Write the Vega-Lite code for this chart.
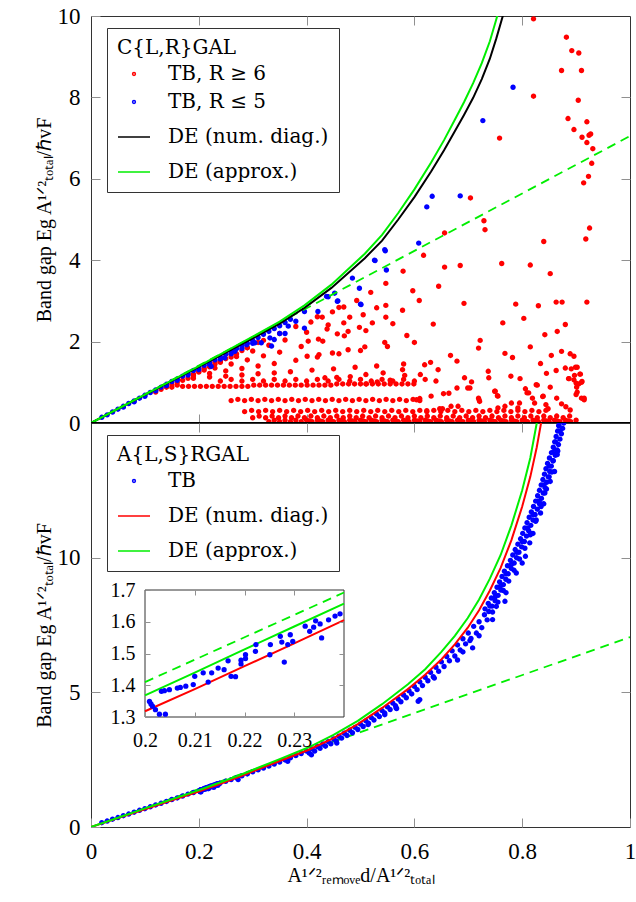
{
"$schema": "https://vega.github.io/schema/vega-lite/v6.json",
"background": "white",
"padding": {"left": 33, "top": 4, "right": 4, "bottom": 5},
"spacing": 0,
"bounds": "flush",
"config": {
  "view": {"stroke": "#333333", "strokeWidth": 1},
  "font": "Liberation Serif",
  "axis": {"labelFont": "Liberation Serif", "labelFontSize": 23, "labelColor": "#000000", "titleFont": "Liberation Serif", "titleFontSize": 20, "titleFontWeight": "normal", "titleColor": "#000000", "domain": false, "grid": false, "tickColor": "#909090", "tickSize": -9, "tickWidth": 1, "labelFlush": false, "labelOverlap": false},
  "axisX": {"labelPadding": 22},
  "axisY": {"labelPadding": 20},
  "legend": {"labelFont": "DejaVu Serif", "labelFontSize": 20, "titleFont": "DejaVu Serif", "titleFontSize": 20, "titleFontWeight": "normal", "labelColor": "#000000", "titleColor": "#000000", "fillColor": "white", "strokeColor": "#333333", "padding": 10, "symbolOffset": 0, "labelOffset": 17, "rowPadding": 8, "titlePadding": 6, "labelLimit": 0, "titleLimit": 0}
},
"datasets": {
"dash": [{"x":0,"y":0},{"x":0.2,"y":1.41},{"x":0.24,"y":1.692},{"x":1,"y":7.05}],
"bkT": [{"x":0,"y":0},{"x":0.05,"y":0.345},{"x":0.1,"y":0.69},{"x":0.15,"y":1.035},{"x":0.2,"y":1.38},{"x":0.25,"y":1.73},{"x":0.3,"y":2.08},{"x":0.35,"y":2.44},{"x":0.396,"y":2.83},{"x":0.446,"y":3.32},{"x":0.508,"y":4.05},{"x":0.54,"y":4.48},{"x":0.57,"y":5.0},{"x":0.6,"y":5.55},{"x":0.631,"y":6.18},{"x":0.655,"y":6.7},{"x":0.675,"y":7.17},{"x":0.692,"y":7.57},{"x":0.709,"y":7.99},{"x":0.725,"y":8.45},{"x":0.74,"y":8.95},{"x":0.752,"y":9.45},{"x":0.764,"y":10.0},{"x":0.78,"y":10.8}],
"gnT": [{"x":0,"y":0},{"x":0.05,"y":0.35},{"x":0.1,"y":0.7},{"x":0.15,"y":1.05},{"x":0.2,"y":1.4},{"x":0.25,"y":1.76},{"x":0.3,"y":2.12},{"x":0.35,"y":2.49},{"x":0.396,"y":2.89},{"x":0.446,"y":3.4},{"x":0.508,"y":4.16},{"x":0.54,"y":4.62},{"x":0.57,"y":5.16},{"x":0.6,"y":5.74},{"x":0.631,"y":6.4},{"x":0.655,"y":6.95},{"x":0.675,"y":7.45},{"x":0.692,"y":7.88},{"x":0.709,"y":8.35},{"x":0.725,"y":8.84},{"x":0.74,"y":9.38},{"x":0.752,"y":9.92},{"x":0.764,"y":10.5},{"x":0.78,"y":11.4}],
"rdB": [{"x":0,"y":0},{"x":0.05,"y":0.33},{"x":0.1,"y":0.66},{"x":0.15,"y":0.99},{"x":0.2,"y":1.318},{"x":0.21,"y":1.388},{"x":0.22,"y":1.46},{"x":0.23,"y":1.532},{"x":0.24,"y":1.605},{"x":0.28,"y":1.9},{"x":0.31,"y":2.14},{"x":0.35,"y":2.45},{"x":0.403,"y":2.86},{"x":0.45,"y":3.3},{"x":0.495,"y":3.82},{"x":0.54,"y":4.42},{"x":0.588,"y":5.12},{"x":0.62,"y":5.65},{"x":0.65,"y":6.22},{"x":0.675,"y":6.78},{"x":0.699,"y":7.4},{"x":0.72,"y":8.05},{"x":0.74,"y":8.78},{"x":0.76,"y":9.62},{"x":0.78,"y":10.65},{"x":0.8,"y":11.9},{"x":0.815,"y":13.0},{"x":0.827,"y":14.1},{"x":0.835,"y":15.0},{"x":0.845,"y":16.2}],
"gnB": [{"x":0,"y":0},{"x":0.05,"y":0.345},{"x":0.1,"y":0.69},{"x":0.15,"y":1.03},{"x":0.2,"y":1.368},{"x":0.21,"y":1.44},{"x":0.22,"y":1.513},{"x":0.23,"y":1.585},{"x":0.24,"y":1.657},{"x":0.28,"y":1.96},{"x":0.31,"y":2.2},{"x":0.35,"y":2.52},{"x":0.403,"y":2.95},{"x":0.45,"y":3.42},{"x":0.495,"y":3.94},{"x":0.54,"y":4.56},{"x":0.588,"y":5.3},{"x":0.62,"y":5.86},{"x":0.65,"y":6.5},{"x":0.675,"y":7.1},{"x":0.699,"y":7.76},{"x":0.72,"y":8.45},{"x":0.74,"y":9.22},{"x":0.76,"y":10.1},{"x":0.78,"y":11.2},{"x":0.8,"y":12.5},{"x":0.815,"y":13.7},{"x":0.827,"y":15.0},{"x":0.84,"y":16.6}],
"redT": [
{"x":0.33,"y":0.03},{"x":0.34,"y":0.07},{"x":0.35,"y":0.03},{"x":0.36,"y":0.07},{"x":0.37,"y":0.03},{"x":0.38,"y":0.07},{"x":0.39,"y":0.03},{"x":0.4,"y":0.07},{"x":0.41,"y":0.03},{"x":0.42,"y":0.07},{"x":0.43,"y":0.03},{"x":0.44,"y":0.07},{"x":0.45,"y":0.03},{"x":0.46,"y":0.07},{"x":0.47,"y":0.03},{"x":0.48,"y":0.07},{"x":0.49,"y":0.03},{"x":0.5,"y":0.07},{"x":0.51,"y":0.03},{"x":0.52,"y":0.07},{"x":0.53,"y":0.03},{"x":0.54,"y":0.07},{"x":0.55,"y":0.03},{"x":0.56,"y":0.07},{"x":0.57,"y":0.03},{"x":0.58,"y":0.07},{"x":0.59,"y":0.03},{"x":0.6,"y":0.07},{"x":0.61,"y":0.03},{"x":0.62,"y":0.07},{"x":0.63,"y":0.03},{"x":0.64,"y":0.07},{"x":0.65,"y":0.03},{"x":0.66,"y":0.07},{"x":0.67,"y":0.03},{"x":0.68,"y":0.07},{"x":0.69,"y":0.03},{"x":0.7,"y":0.07},{"x":0.71,"y":0.03},{"x":0.72,"y":0.07},{"x":0.73,"y":0.03},{"x":0.74,"y":0.07},{"x":0.75,"y":0.03},{"x":0.76,"y":0.07},{"x":0.77,"y":0.03},{"x":0.78,"y":0.07},{"x":0.79,"y":0.03},{"x":0.8,"y":0.07},{"x":0.81,"y":0.03},{"x":0.82,"y":0.07},{"x":0.83,"y":0.03},{"x":0.84,"y":0.07},{"x":0.85,"y":0.03},{"x":0.86,"y":0.07},{"x":0.87,"y":0.03},{"x":0.88,"y":0.07},{"x":0.89,"y":0.03},{"x":0.9,"y":0.07},
{"x":0.405,"y":0.05},{"x":0.425,"y":0.05},{"x":0.445,"y":0.05},{"x":0.465,"y":0.05},{"x":0.485,"y":0.05},{"x":0.505,"y":0.05},{"x":0.525,"y":0.05},{"x":0.545,"y":0.05},{"x":0.565,"y":0.05},{"x":0.585,"y":0.05},{"x":0.605,"y":0.05},{"x":0.625,"y":0.05},{"x":0.645,"y":0.05},{"x":0.665,"y":0.05},{"x":0.685,"y":0.05},{"x":0.705,"y":0.05},{"x":0.725,"y":0.05},{"x":0.745,"y":0.05},{"x":0.765,"y":0.05},{"x":0.785,"y":0.05},{"x":0.805,"y":0.05},{"x":0.825,"y":0.05},{"x":0.845,"y":0.05},{"x":0.865,"y":0.05},{"x":0.885,"y":0.05},
{"x":0.3,"y":0.13},{"x":0.312,"y":0.17},{"x":0.324,"y":0.13},{"x":0.336,"y":0.17},{"x":0.348,"y":0.13},{"x":0.36,"y":0.17},{"x":0.372,"y":0.13},{"x":0.384,"y":0.17},{"x":0.396,"y":0.13},{"x":0.408,"y":0.17},{"x":0.42,"y":0.13},{"x":0.432,"y":0.17},{"x":0.444,"y":0.13},{"x":0.456,"y":0.17},{"x":0.468,"y":0.13},{"x":0.48,"y":0.17},{"x":0.492,"y":0.13},{"x":0.504,"y":0.17},{"x":0.516,"y":0.13},{"x":0.528,"y":0.17},{"x":0.54,"y":0.13},{"x":0.552,"y":0.17},{"x":0.564,"y":0.13},{"x":0.576,"y":0.17},{"x":0.588,"y":0.13},{"x":0.6,"y":0.17},{"x":0.612,"y":0.13},{"x":0.624,"y":0.17},{"x":0.636,"y":0.13},{"x":0.648,"y":0.17},{"x":0.66,"y":0.13},{"x":0.672,"y":0.17},{"x":0.684,"y":0.13},{"x":0.696,"y":0.17},{"x":0.708,"y":0.13},{"x":0.72,"y":0.17},{"x":0.732,"y":0.13},{"x":0.744,"y":0.17},{"x":0.756,"y":0.13},{"x":0.768,"y":0.17},{"x":0.78,"y":0.13},{"x":0.792,"y":0.17},{"x":0.804,"y":0.13},{"x":0.816,"y":0.17},{"x":0.828,"y":0.13},{"x":0.84,"y":0.17},{"x":0.852,"y":0.13},{"x":0.864,"y":0.17},{"x":0.876,"y":0.13},{"x":0.888,"y":0.17},
{"x":0.285,"y":0.28},{"x":0.298,"y":0.31},{"x":0.311,"y":0.28},{"x":0.324,"y":0.31},{"x":0.337,"y":0.28},{"x":0.35,"y":0.31},{"x":0.363,"y":0.28},{"x":0.376,"y":0.31},{"x":0.389,"y":0.28},{"x":0.402,"y":0.31},{"x":0.415,"y":0.28},{"x":0.428,"y":0.31},{"x":0.441,"y":0.28},{"x":0.454,"y":0.31},{"x":0.467,"y":0.28},{"x":0.48,"y":0.31},{"x":0.493,"y":0.28},{"x":0.506,"y":0.31},{"x":0.519,"y":0.28},{"x":0.532,"y":0.31},{"x":0.545,"y":0.28},{"x":0.558,"y":0.31},{"x":0.571,"y":0.28},{"x":0.584,"y":0.31},{"x":0.597,"y":0.28},{"x":0.61,"y":0.31},{"x":0.623,"y":0.28},{"x":0.636,"y":0.31},{"x":0.649,"y":0.28},{"x":0.662,"y":0.31},{"x":0.675,"y":0.28},{"x":0.688,"y":0.31},{"x":0.701,"y":0.28},{"x":0.714,"y":0.31},{"x":0.727,"y":0.28},{"x":0.74,"y":0.31},{"x":0.753,"y":0.28},{"x":0.766,"y":0.31},{"x":0.779,"y":0.28},{"x":0.792,"y":0.31},{"x":0.805,"y":0.28},{"x":0.818,"y":0.31},{"x":0.831,"y":0.28},{"x":0.844,"y":0.31},
{"x":0.26,"y":0.55},{"x":0.2725,"y":0.58},{"x":0.285,"y":0.55},{"x":0.2975,"y":0.58},{"x":0.31,"y":0.55},{"x":0.3225,"y":0.58},{"x":0.335,"y":0.55},{"x":0.3475,"y":0.58},{"x":0.36,"y":0.55},{"x":0.3725,"y":0.58},{"x":0.385,"y":0.55},{"x":0.3975,"y":0.58},{"x":0.41,"y":0.55},{"x":0.4225,"y":0.58},{"x":0.435,"y":0.55},{"x":0.4475,"y":0.58},{"x":0.46,"y":0.55},{"x":0.4725,"y":0.58},{"x":0.485,"y":0.55},{"x":0.4975,"y":0.58},{"x":0.51,"y":0.55},{"x":0.5225,"y":0.58},{"x":0.535,"y":0.55},{"x":0.5475,"y":0.58},{"x":0.56,"y":0.55},{"x":0.5725,"y":0.58},{"x":0.585,"y":0.55},{"x":0.5975,"y":0.58},{"x":0.61,"y":0.55},
{"x":0.17,"y":0.9},{"x":0.181,"y":0.9},{"x":0.192,"y":0.9},{"x":0.203,"y":0.9},{"x":0.214,"y":0.9},{"x":0.225,"y":0.9},{"x":0.236,"y":0.9},{"x":0.247,"y":0.9},{"x":0.258,"y":0.9},{"x":0.269,"y":0.9},{"x":0.28,"y":0.9},{"x":0.291,"y":0.9},{"x":0.302,"y":0.93},{"x":0.313,"y":0.93},{"x":0.324,"y":0.93},{"x":0.335,"y":0.93},{"x":0.346,"y":0.93},{"x":0.357,"y":0.93},{"x":0.368,"y":0.93},{"x":0.379,"y":0.93},{"x":0.39,"y":0.93},{"x":0.401,"y":0.93},{"x":0.412,"y":0.93},{"x":0.423,"y":0.93},{"x":0.434,"y":0.93},{"x":0.445,"y":0.93},{"x":0.456,"y":0.96},{"x":0.467,"y":0.96},{"x":0.478,"y":0.96},{"x":0.489,"y":0.96},{"x":0.5,"y":0.96},{"x":0.511,"y":0.96},{"x":0.522,"y":0.96},{"x":0.533,"y":0.96},{"x":0.544,"y":0.96},{"x":0.555,"y":0.96},{"x":0.566,"y":0.96},{"x":0.577,"y":0.96},{"x":0.588,"y":0.96},{"x":0.599,"y":0.96},
{"x":0.24,"y":1.03},{"x":0.26,"y":1.07},{"x":0.28,"y":1.03},{"x":0.3,"y":1.07},{"x":0.32,"y":1.03},{"x":0.34,"y":1.07},{"x":0.36,"y":1.03},{"x":0.38,"y":1.07},{"x":0.4,"y":1.03},{"x":0.42,"y":1.07},{"x":0.44,"y":1.03},{"x":0.46,"y":1.07},{"x":0.48,"y":1.03},{"x":0.5,"y":1.07},{"x":0.52,"y":1.03},{"x":0.54,"y":1.07},{"x":0.56,"y":1.03},{"x":0.58,"y":1.07},{"x":0.6,"y":1.03},{"x":0.62,"y":1.07},{"x":0.64,"y":1.03},
{"x":0.19,"y":1.1},{"x":0.22,"y":1.13},{"x":0.25,"y":1.15},{"x":0.28,"y":1.18},{"x":0.31,"y":1.21},{"x":0.34,"y":1.23},{"x":0.37,"y":1.26},{"x":0.41,"y":1.3},{"x":0.45,"y":1.33},{"x":0.49,"y":1.37},{"x":0.53,"y":1.4},{"x":0.58,"y":1.45},{"x":0.63,"y":1.49},
{"x":0.19,"y":1.16},{"x":0.22,"y":1.22},{"x":0.25,"y":1.28},{"x":0.28,"y":1.34},{"x":0.31,"y":1.4},{"x":0.34,"y":1.46},{"x":0.38,"y":1.54},{"x":0.42,"y":1.62},{"x":0.46,"y":1.7},{"x":0.5,"y":1.78},{"x":0.55,"y":1.88},{"x":0.6,"y":1.98},
{"x":0.2,"y":1.25},{"x":0.23,"y":1.35},{"x":0.26,"y":1.45},{"x":0.29,"y":1.55},{"x":0.32,"y":1.65},{"x":0.35,"y":1.74},{"x":0.39,"y":1.88},{"x":0.43,"y":2.01},{"x":0.47,"y":2.14},{"x":0.51,"y":2.27},{"x":0.56,"y":2.44},
{"x":0.21,"y":1.35},{"x":0.24,"y":1.49},{"x":0.27,"y":1.63},{"x":0.3,"y":1.77},{"x":0.33,"y":1.91},{"x":0.36,"y":2.04},{"x":0.4,"y":2.23},{"x":0.44,"y":2.41},{"x":0.48,"y":2.6},{"x":0.53,"y":2.83},
{"x":0.23,"y":1.5},{"x":0.26,"y":1.68},{"x":0.29,"y":1.85},{"x":0.32,"y":2.03},{"x":0.35,"y":2.2},{"x":0.38,"y":2.37},{"x":0.42,"y":2.61},{"x":0.46,"y":2.84},
{"x":0.12,"y":0.76},{"x":0.13,"y":0.83},{"x":0.14,"y":0.88},{"x":0.15,"y":0.95},{"x":0.16,"y":1.0},{"x":0.15,"y":0.88},{"x":0.17,"y":1.05},{"x":0.18,"y":1.1},{"x":0.16,"y":0.93},{"x":0.19,"y":1.2},{"x":0.2,"y":1.27},{"x":0.21,"y":1.3},{"x":0.22,"y":1.38},{"x":0.23,"y":1.45},{"x":0.24,"y":1.52},{"x":0.25,"y":1.58},{"x":0.26,"y":1.62},{"x":0.27,"y":1.7},{"x":0.28,"y":1.78},{"x":0.29,"y":1.85},{"x":0.31,"y":1.98},
{"x":0.821,"y":9.93},{"x":0.882,"y":9.48},{"x":0.892,"y":9.15},{"x":0.905,"y":9.09},{"x":0.873,"y":8.66},{"x":0.91,"y":8.66},{"x":0.821,"y":8.03},{"x":0.904,"y":7.93},{"x":0.885,"y":7.48},{"x":0.92,"y":7.4},{"x":0.896,"y":7.21},{"x":0.911,"y":7.02},{"x":0.927,"y":7.1},{"x":0.924,"y":7.07},{"x":0.92,"y":6.89},{"x":0.931,"y":6.74},{"x":0.929,"y":6.38},{"x":0.758,"y":7.0},{"x":0.923,"y":6.06},{"x":0.914,"y":5.9},{"x":0.704,"y":5.53},{"x":0.729,"y":4.97},{"x":0.731,"y":4.75},{"x":0.925,"y":4.79},{"x":0.918,"y":4.52},{"x":0.656,"y":4.67},{"x":0.84,"y":4.46},{"x":0.617,"y":4.12},{"x":0.656,"y":3.83},{"x":0.685,"y":3.87},{"x":0.762,"y":3.92},{"x":0.815,"y":3.88},{"x":0.852,"y":3.67},{"x":0.579,"y":3.73},{"x":0.547,"y":3.43},{"x":0.645,"y":3.36},{"x":0.597,"y":3.25},{"x":0.609,"y":3.01},{"x":0.692,"y":2.94},{"x":0.788,"y":2.92},{"x":0.83,"y":2.88},{"x":0.863,"y":2.97},{"x":0.874,"y":2.97},{"x":0.92,"y":2.97},{"x":0.578,"y":2.77},{"x":0.547,"y":2.89},{"x":0.547,"y":2.6},{"x":0.635,"y":2.43},{"x":0.764,"y":2.46},{"x":0.803,"y":2.57},{"x":0.88,"y":2.42},{"x":0.865,"y":2.25},{"x":0.842,"y":2.17},{"x":0.586,"y":2.15},{"x":0.722,"y":2.03},{"x":0.719,"y":1.84},{"x":0.815,"y":1.87},{"x":0.545,"y":1.98},{"x":0.508,"y":1.87},{"x":0.768,"y":1.71},{"x":0.782,"y":1.61},{"x":0.667,"y":1.66},{"x":0.679,"y":1.52},{"x":0.834,"y":1.46},{"x":0.854,"y":1.66},{"x":0.873,"y":1.76},{"x":0.889,"y":1.7},{"x":0.896,"y":1.64},{"x":0.88,"y":1.35},{"x":0.899,"y":1.37},{"x":0.908,"y":1.2},{"x":0.886,"y":1.09},{"x":0.9,"y":0.98},{"x":0.911,"y":1.02},{"x":0.902,"y":0.76},{"x":0.915,"y":0.61},{"x":0.845,"y":1.22},{"x":0.863,"y":1.29},{"x":0.806,"y":0.84},{"x":0.812,"y":0.74},{"x":0.839,"y":0.66},{"x":0.826,"y":0.94},{"x":0.737,"y":1.27},{"x":0.738,"y":1.11},{"x":0.779,"y":1.15},{"x":0.796,"y":1.09},{"x":0.749,"y":0.78},{"x":0.755,"y":0.66},{"x":0.72,"y":0.57},{"x":0.654,"y":0.72},{"x":0.631,"y":0.66},{"x":0.679,"y":0.86},{"x":0.693,"y":1.11},{"x":0.703,"y":0.86},{"x":0.644,"y":1.31},{"x":0.619,"y":1.43},{"x":0.611,"y":1.19},{"x":0.582,"y":1.17},{"x":0.578,"y":1.31},{"x":0.555,"y":1.05},{"x":0.542,"y":1.23},{"x":0.531,"y":1.01},{"x":0.51,"y":1.19},{"x":0.51,"y":0.96},{"x":0.481,"y":1.14},{"x":0.456,"y":1.12},{"x":0.434,"y":1.11},
{"x":0.519,"y":3.21},{"x":0.493,"y":3.01},{"x":0.505,"y":2.66},{"x":0.522,"y":2.46},{"x":0.469,"y":2.85},{"x":0.448,"y":2.73},{"x":0.429,"y":2.6},{"x":0.408,"y":2.48},{"x":0.477,"y":2.25},{"x":0.498,"y":2.35},{"x":0.438,"y":2.31},{"x":0.457,"y":2.19},{"x":0.422,"y":2.06},{"x":0.469,"y":2.46},{"x":0.403,"y":2.01},{"x":0.401,"y":1.64},{"x":0.423,"y":1.68},{"x":0.448,"y":1.72},{"x":0.477,"y":1.8},
{"x":0.891,"y":1.33},{"x":0.902,"y":1.37},{"x":0.897,"y":1.17},{"x":0.907,"y":1.2},{"x":0.887,"y":1.09},{"x":0.896,"y":1.06},{"x":0.901,"y":0.88},{"x":0.828,"y":0.93},{"x":0.852,"y":0.88},{"x":0.706,"y":1.01},{"x":0.699,"y":0.86},{"x":0.75,"y":0.78},{"x":0.754,"y":0.67},{"x":0.664,"y":0.73},{"x":0.604,"y":0.57},{"x":0.61,"y":0.6},{"x":0.719,"y":0.61},{"x":0.721,"y":0.53},{"x":0.809,"y":0.74},{"x":0.819,"y":0.61},{"x":0.823,"y":0.49},{"x":0.838,"y":0.65},{"x":0.78,"y":0.49},{"x":0.768,"y":0.41},{"x":0.755,"y":0.37},{"x":0.792,"y":0.37},{"x":0.795,"y":0.49},{"x":0.668,"y":0.41},{"x":0.681,"y":0.41},{"x":0.647,"y":0.35},{"x":0.652,"y":0.35},{"x":0.623,"y":0.3},{"x":0.844,"y":0.45},{"x":0.848,"y":0.35},{"x":0.864,"y":0.61},{"x":0.873,"y":0.47},{"x":0.881,"y":0.4},{"x":0.889,"y":0.32},{"x":0.9,"y":0.7},{"x":0.91,"y":0.61},{"x":0.915,"y":0.57},{"x":0.905,"y":0.96},{"x":0.91,"y":1.0}
],
"blueT": [
{"x":0.02,"y":0.14},{"x":0.03,"y":0.2},{"x":0.04,"y":0.27},{"x":0.05,"y":0.34},{"x":0.06,"y":0.41},{"x":0.07,"y":0.48},{"x":0.08,"y":0.54},{"x":0.09,"y":0.61},{"x":0.1,"y":0.68},{"x":0.11,"y":0.75},{"x":0.12,"y":0.81},{"x":0.13,"y":0.88},{"x":0.14,"y":0.95},{"x":0.15,"y":1.02},{"x":0.16,"y":1.08},{"x":0.17,"y":1.15},{"x":0.18,"y":1.22},{"x":0.19,"y":1.29},{"x":0.2,"y":1.35},{"x":0.21,"y":1.42},{"x":0.22,"y":1.48},{"x":0.23,"y":1.55},{"x":0.24,"y":1.62},{"x":0.25,"y":1.69},{"x":0.26,"y":1.75},{"x":0.27,"y":1.83},{"x":0.28,"y":1.9},{"x":0.29,"y":1.96},{"x":0.3,"y":2.03},{"x":0.31,"y":2.1},{"x":0.32,"y":2.18},{"x":0.33,"y":2.25},{"x":0.34,"y":2.32},{"x":0.35,"y":2.39},{"x":0.36,"y":2.47},{"x":0.37,"y":2.55},
{"x":0.06,"y":0.39},{"x":0.08,"y":0.52},{"x":0.1,"y":0.655},{"x":0.12,"y":0.79},{"x":0.14,"y":0.92},{"x":0.16,"y":1.05},{"x":0.18,"y":1.18},{"x":0.2,"y":1.31},{"x":0.22,"y":1.44},{"x":0.24,"y":1.57},{"x":0.26,"y":1.7},{"x":0.28,"y":1.83},{"x":0.3,"y":1.96},
{"x":0.727,"y":7.43},{"x":0.783,"y":8.25},{"x":0.685,"y":5.58},{"x":0.633,"y":5.57},{"x":0.623,"y":5.31},{"x":0.608,"y":4.42},{"x":0.546,"y":4.23},{"x":0.527,"y":3.99},{"x":0.548,"y":3.76},{"x":0.485,"y":3.56},{"x":0.498,"y":3.31},{"x":0.452,"y":3.19},{"x":0.437,"y":3.11},{"x":0.457,"y":2.99},{"x":0.5,"y":2.92},{"x":0.421,"y":2.74},{"x":0.396,"y":2.74},{"x":0.332,"y":2.09},{"x":0.316,"y":1.97},{"x":0.304,"y":1.97},{"x":0.335,"y":1.89},{"x":0.289,"y":1.92},{"x":0.267,"y":1.76},{"x":0.248,"y":1.6},{"x":0.223,"y":1.39},{"x":0.366,"y":2.38},{"x":0.396,"y":2.33},{"x":0.44,"y":3.1},{"x":0.458,"y":3.0},{"x":0.501,"y":2.91},{"x":0.526,"y":4.0},{"x":0.545,"y":4.26},{"x":0.38,"y":2.5},{"x":0.35,"y":2.2},{"x":0.36,"y":2.2},{"x":0.34,"y":2.05}
],
"bb": [
{"x":0.02,"y":0.16},{"x":0.03,"y":0.22},{"x":0.04,"y":0.29},{"x":0.05,"y":0.35},{"x":0.06,"y":0.42},{"x":0.07,"y":0.48},{"x":0.08,"y":0.55},{"x":0.09,"y":0.62},{"x":0.1,"y":0.68},{"x":0.11,"y":0.75},{"x":0.12,"y":0.82},{"x":0.13,"y":0.88},{"x":0.14,"y":0.95},{"x":0.15,"y":1.02},{"x":0.16,"y":1.08},{"x":0.17,"y":1.15},{"x":0.18,"y":1.22},{"x":0.19,"y":1.28},
{"x":0.2009,"y":1.349},{"x":0.2012,"y":1.341},{"x":0.2015,"y":1.334},{"x":0.2021,"y":1.323},{"x":0.2029,"y":1.309},{"x":0.2041,"y":1.309},{"x":0.2033,"y":1.381},{"x":0.2039,"y":1.383},{"x":0.2049,"y":1.386},{"x":0.2065,"y":1.391},{"x":0.2071,"y":1.393},{"x":0.2082,"y":1.397},{"x":0.2097,"y":1.402},{"x":0.21,"y":1.428},{"x":0.2117,"y":1.439},{"x":0.2127,"y":1.41},{"x":0.2134,"y":1.439},{"x":0.2147,"y":1.454},{"x":0.2159,"y":1.449},{"x":0.2167,"y":1.477},{"x":0.2173,"y":1.428},{"x":0.2182,"y":1.427},{"x":0.2193,"y":1.479},{"x":0.2193,"y":1.467},{"x":0.2202,"y":1.484},{"x":0.2202,"y":1.496},{"x":0.2222,"y":1.507},{"x":0.2223,"y":1.528},{"x":0.2251,"y":1.496},{"x":0.2252,"y":1.528},{"x":0.2272,"y":1.554},{"x":0.2275,"y":1.536},{"x":0.228,"y":1.473},{"x":0.2287,"y":1.528},{"x":0.2292,"y":1.559},{"x":0.2297,"y":1.538},{"x":0.2322,"y":1.586},{"x":0.2331,"y":1.57},{"x":0.2339,"y":1.583},{"x":0.2343,"y":1.603},{"x":0.2352,"y":1.593},{"x":0.2355,"y":1.549},{"x":0.2369,"y":1.606},{"x":0.2382,"y":1.618},{"x":0.2392,"y":1.625},
{"x":0.25,"y":1.7},{"x":0.26,"y":1.76},{"x":0.27,"y":1.83},{"x":0.28,"y":1.9},{"x":0.29,"y":1.97},{"x":0.3,"y":2.05},{"x":0.31,"y":2.12},{"x":0.32,"y":2.19},{"x":0.33,"y":2.26},{"x":0.34,"y":2.34},{"x":0.35,"y":2.41},{"x":0.36,"y":2.49},{"x":0.37,"y":2.57},{"x":0.38,"y":2.65},{"x":0.39,"y":2.73},{"x":0.4,"y":2.82},{"x":0.41,"y":2.9},{"x":0.42,"y":2.99},{"x":0.43,"y":3.08},{"x":0.44,"y":3.17},{"x":0.45,"y":3.27},{"x":0.46,"y":3.37},{"x":0.47,"y":3.48},{"x":0.48,"y":3.59},{"x":0.49,"y":3.7},{"x":0.5,"y":3.82},{"x":0.51,"y":3.94},{"x":0.52,"y":4.06},{"x":0.53,"y":4.19},{"x":0.54,"y":4.32},{"x":0.55,"y":4.46},{"x":0.56,"y":4.6},{"x":0.57,"y":4.75},{"x":0.58,"y":4.9},{"x":0.59,"y":5.06},{"x":0.6,"y":5.22},{"x":0.61,"y":5.39},{"x":0.62,"y":5.56},{"x":0.63,"y":5.74},{"x":0.64,"y":5.93},{"x":0.65,"y":6.13},{"x":0.66,"y":6.33},{"x":0.67,"y":6.54},{"x":0.68,"y":6.76},{"x":0.69,"y":6.99},{"x":0.7,"y":7.2},{"x":0.71,"y":7.45},{"x":0.72,"y":7.62},{"x":0.73,"y":7.88},{"x":0.74,"y":8.2},{"x":0.75,"y":8.55},{"x":0.76,"y":8.95},{"x":0.77,"y":9.4},{"x":0.78,"y":9.75},{"x":0.79,"y":10.2},{"x":0.8,"y":10.6},{"x":0.81,"y":11.1},{"x":0.82,"y":11.6},{"x":0.83,"y":12.1},{"x":0.84,"y":12.7},{"x":0.85,"y":13.4},{"x":0.86,"y":13.95},{"x":0.87,"y":14.7},{"x":0.875,"y":15.2},
{"x":0.405,"y":2.74},{"x":0.415,"y":2.82},{"x":0.425,"y":2.92},{"x":0.435,"y":3.0},{"x":0.445,"y":3.09},{"x":0.455,"y":3.19},{"x":0.465,"y":3.3},{"x":0.475,"y":3.4},{"x":0.485,"y":3.5},{"x":0.495,"y":3.62},{"x":0.505,"y":3.73},{"x":0.515,"y":3.85},{"x":0.525,"y":3.97},{"x":0.535,"y":4.1},{"x":0.545,"y":4.23},{"x":0.555,"y":4.36},{"x":0.565,"y":4.5},{"x":0.575,"y":4.65},{"x":0.585,"y":4.8},{"x":0.595,"y":4.94},{"x":0.605,"y":5.1},{"x":0.615,"y":5.25},{"x":0.625,"y":5.43},{"x":0.635,"y":5.58},{"x":0.645,"y":5.78},{"x":0.655,"y":5.96},{"x":0.665,"y":6.17},{"x":0.675,"y":6.35},{"x":0.685,"y":6.57},{"x":0.695,"y":6.8},{"x":0.705,"y":7.0},{"x":0.715,"y":7.2},{"x":0.725,"y":7.4},{"x":0.735,"y":7.69},{"x":0.745,"y":7.98},{"x":0.755,"y":8.35},{"x":0.765,"y":8.78},{"x":0.775,"y":9.13},{"x":0.785,"y":9.53},{"x":0.795,"y":9.95},{"x":0.805,"y":10.35},{"x":0.815,"y":10.85},{"x":0.825,"y":11.35},{"x":0.835,"y":11.9},{"x":0.845,"y":12.55},{"x":0.855,"y":13.18},{"x":0.865,"y":13.83},
{"x":0.738,"y":8.0},{"x":0.744,"y":8.2},{"x":0.7497,"y":8.4},{"x":0.7553,"y":8.6},{"x":0.7603,"y":8.8},{"x":0.7651,"y":9.0},{"x":0.7696,"y":9.2},{"x":0.774,"y":9.4},{"x":0.7797,"y":9.6},{"x":0.7851,"y":9.8},{"x":0.7896,"y":10.0},{"x":0.794,"y":10.2},{"x":0.799,"y":10.4},{"x":0.804,"y":10.6},{"x":0.808,"y":10.8},{"x":0.812,"y":11.0},{"x":0.816,"y":11.2},{"x":0.82,"y":11.4},{"x":0.824,"y":11.6},{"x":0.828,"y":11.8},{"x":0.832,"y":12.0},{"x":0.8357,"y":12.2},{"x":0.839,"y":12.4},{"x":0.8423,"y":12.6},{"x":0.8454,"y":12.8},{"x":0.8483,"y":13.0},{"x":0.8511,"y":13.2},{"x":0.854,"y":13.4},{"x":0.8576,"y":13.6},{"x":0.8613,"y":13.8},{"x":0.8647,"y":14.0},{"x":0.8673,"y":14.2},{"x":0.87,"y":14.4},{"x":0.8727,"y":14.6},{"x":0.875,"y":14.8},{"x":0.877,"y":15.0},
{"x":0.731,"y":8.1},{"x":0.737,"y":8.3},{"x":0.7427,"y":8.5},{"x":0.7483,"y":8.7},{"x":0.7533,"y":8.9},{"x":0.7581,"y":9.1},{"x":0.7626,"y":9.3},{"x":0.767,"y":9.5},{"x":0.7727,"y":9.7},{"x":0.7781,"y":9.9},{"x":0.7826,"y":10.1},{"x":0.787,"y":10.3},{"x":0.792,"y":10.5},{"x":0.797,"y":10.7},{"x":0.801,"y":10.9},{"x":0.805,"y":11.1},{"x":0.809,"y":11.3},{"x":0.813,"y":11.5},{"x":0.817,"y":11.7},{"x":0.821,"y":11.9},{"x":0.825,"y":12.1},{"x":0.8287,"y":12.3},{"x":0.832,"y":12.5},{"x":0.8353,"y":12.7},{"x":0.8384,"y":12.9},{"x":0.8413,"y":13.1},{"x":0.8441,"y":13.3},{"x":0.847,"y":13.5},{"x":0.8506,"y":13.7},{"x":0.8543,"y":13.9},{"x":0.8577,"y":14.1},{"x":0.8603,"y":14.3},{"x":0.863,"y":14.5},{"x":0.8657,"y":14.7},{"x":0.868,"y":14.9},
{"x":0.862,"y":14.3},{"x":0.868,"y":14.9},{"x":0.857,"y":13.6},{"x":0.85,"y":13.0},{"x":0.842,"y":12.4},{"x":0.835,"y":12.0},{"x":0.826,"y":11.4},{"x":0.816,"y":10.9},
{"x":0.852,"y":12.83},{"x":0.834,"y":11.66},{"x":0.814,"y":10.55},{"x":0.806,"y":10.05},{"x":0.789,"y":9.43},{"x":0.768,"y":8.38},{"x":0.752,"y":8.19},{"x":0.708,"y":6.65},{"x":0.703,"y":6.92},{"x":0.866,"y":13.96},{"x":0.61,"y":4.73},{"x":0.567,"y":4.4},{"x":0.456,"y":3.12},{"x":0.409,"y":2.68},{"x":0.637,"y":5.53},{"x":0.545,"y":4.17},{"x":0.514,"y":3.8},{"x":0.607,"y":4.67},{"x":0.566,"y":4.42},{"x":0.273,"y":1.76},{"x":0.365,"y":2.44},{"x":0.68,"y":6.2},{"x":0.69,"y":6.5},{"x":0.72,"y":7.1},{"x":0.745,"y":7.7},{"x":0.77,"y":8.7},{"x":0.8,"y":9.8},{"x":0.82,"y":10.9},{"x":0.84,"y":12.0},{"x":0.86,"y":13.2}
]
},
"vconcat": [
{
 "name": "top",
 "width": 539, "height": 407,
 "layer": [
  {
   "layer": [
    {"data": {"name": "redT"}, "mark": {"type": "point", "filled": false, "strokeWidth": 2.6, "opacity": 1, "clip": true},
     "encoding": {
      "x": {"field": "x", "type": "quantitative", "scale": {"domain": [0, 1], "nice": false, "zero": false}, "axis": {"orient": "bottom", "values": [0.2, 0.4, 0.6, 0.8], "labels": false, "title": null}},
      "y": {"field": "y", "type": "quantitative", "scale": {"domain": [0, 10], "nice": false}, "axis": {"orient": "left", "values": [0, 2, 4, 6, 8, 10], "format": "~f", "title": "Band gap Eg A¹ᐟ²ₜₒₜₐₗ/ℏvF", "titlePadding": 3}},
      "color": {"datum": "TB, R ≥ 6", "type": "nominal",
        "scale": {"domain": ["TB, R ≥ 6", "TB, R ≤ 5", "DE (num. diag.)", "DE (approx.)"], "range": ["#ff0000", "#0000ff", "#000000", "#00ee00"]},
        "legend": {"title": "C{L,R}GAL", "orient": "none", "legendX": 16, "legendY": 12}},
      "shape": {"datum": "TB, R ≥ 6", "type": "nominal",
        "scale": {"domain": ["TB, R ≥ 6", "TB, R ≤ 5", "DE (num. diag.)", "DE (approx.)"], "range": ["circle", "circle", "stroke", "stroke"]}},
      "size": {"datum": "TB, R ≥ 6", "type": "ordinal",
        "scale": {"type": "ordinal", "domain": ["TB, R ≥ 6", "TB, R ≤ 5", "DE (num. diag.)", "DE (approx.)"], "range": [8, 8, 1024, 1024]}}
     }},
    {"data": {"name": "blueT"}, "mark": {"type": "point", "filled": false, "strokeWidth": 2.6, "size": 8, "opacity": 1, "clip": true},
     "encoding": {
      "x": {"field": "x", "type": "quantitative", "scale": {"domain": [0, 1], "nice": false, "zero": false}},
      "y": {"field": "y", "type": "quantitative", "scale": {"domain": [0, 10], "nice": false}},
      "color": {"datum": "TB, R ≤ 5", "type": "nominal"}
     }},
    {"data": {"name": "dash"}, "mark": {"type": "line", "color": "#00ee00", "strokeWidth": 1.8, "strokeDash": [9, 6], "clip": true},
     "encoding": {
      "x": {"field": "x", "type": "quantitative", "scale": {"domain": [0, 1], "nice": false, "zero": false}},
      "y": {"field": "y", "type": "quantitative", "scale": {"domain": [0, 10], "nice": false}}
     }},
    {"data": {"name": "bkT"}, "mark": {"type": "line", "strokeWidth": 2, "clip": true},
     "encoding": {
      "x": {"field": "x", "type": "quantitative", "scale": {"domain": [0, 1], "nice": false, "zero": false}},
      "y": {"field": "y", "type": "quantitative", "scale": {"domain": [0, 10], "nice": false}},
      "color": {"datum": "DE (num. diag.)", "type": "nominal"}
     }},
    {"data": {"name": "gnT"}, "mark": {"type": "line", "strokeWidth": 2, "clip": true},
     "encoding": {
      "x": {"field": "x", "type": "quantitative", "scale": {"domain": [0, 1], "nice": false, "zero": false}},
      "y": {"field": "y", "type": "quantitative", "scale": {"domain": [0, 10], "nice": false}},
      "color": {"datum": "DE (approx.)", "type": "nominal"}
     }},
    {"data": {"values": [{}]}, "mark": {"type": "rule", "color": "#000000", "strokeWidth": 2},
     "encoding": {"y": {"datum": 0, "type": "quantitative", "scale": {"domain": [0, 10], "nice": false}}}}
   ]
  },
  {"data": {"name": "dash"}, "mark": {"type": "line", "opacity": 0},
   "encoding": {
    "x": {"field": "x", "type": "quantitative", "scale": {"domain": [0, 1], "nice": false, "zero": false}, "axis": {"orient": "top", "values": [0.2, 0.4, 0.6, 0.8], "labels": false, "title": null}},
    "y": {"field": "y", "type": "quantitative", "scale": {"domain": [0, 10], "nice": false}, "axis": {"orient": "right", "values": [2, 4, 6, 8], "labels": false, "title": null}}
   }}
 ],
 "resolve": {"axis": {"x": "independent", "y": "independent"}}
},
{
 "name": "bot",
 "width": 539, "height": 404,
 "layer": [
  {
   "layer": [
    {"data": {"name": "dash"}, "mark": {"type": "line", "color": "#00ee00", "strokeWidth": 1.8, "strokeDash": [9, 6], "clip": true},
     "encoding": {
      "x": {"field": "x", "type": "quantitative", "scale": {"domain": [0, 1], "nice": false, "zero": false}, "axis": {"orient": "bottom", "values": [0, 0.2, 0.4, 0.6, 0.8, 1], "format": "~f", "title": "A¹ᐟ²ᵣₑₘₒᵥₑd/A¹ᐟ²ₜₒₜₐₗ", "titlePadding": 2}},
      "y": {"field": "y", "type": "quantitative", "scale": {"domain": [0, 15], "nice": false}, "axis": {"orient": "left", "values": [0, 5, 10], "format": "~f", "title": "Band gap Eg A¹ᐟ²ₜₒₜₐₗ/ℏvF", "titlePadding": 3}}
     }},
    {"data": {"name": "bb"}, "mark": {"type": "point", "filled": false, "strokeWidth": 2.6, "opacity": 1, "clip": true},
     "encoding": {
      "x": {"field": "x", "type": "quantitative", "scale": {"domain": [0, 1], "nice": false, "zero": false}},
      "y": {"field": "y", "type": "quantitative", "scale": {"domain": [0, 15], "nice": false}},
      "color": {"datum": "TB", "type": "nominal",
        "scale": {"domain": ["TB", "DE (num. diag.)", "DE (approx.)"], "range": ["#0000ff", "#ff0000", "#00ee00"]},
        "legend": {"title": "A{L,S}RGAL", "orient": "none", "legendX": 16, "legendY": 12}},
      "shape": {"datum": "TB", "type": "nominal",
        "scale": {"domain": ["TB", "DE (num. diag.)", "DE (approx.)"], "range": ["circle", "stroke", "stroke"]}},
      "size": {"datum": "TB", "type": "ordinal",
        "scale": {"type": "ordinal", "domain": ["TB", "DE (num. diag.)", "DE (approx.)"], "range": [8, 1024, 1024]}}
     }},
    {"data": {"name": "rdB"}, "mark": {"type": "line", "strokeWidth": 2, "clip": true},
     "encoding": {
      "x": {"field": "x", "type": "quantitative", "scale": {"domain": [0, 1], "nice": false, "zero": false}},
      "y": {"field": "y", "type": "quantitative", "scale": {"domain": [0, 15], "nice": false}},
      "color": {"datum": "DE (num. diag.)", "type": "nominal"}
     }},
    {"data": {"name": "gnB"}, "mark": {"type": "line", "strokeWidth": 2, "clip": true},
     "encoding": {
      "x": {"field": "x", "type": "quantitative", "scale": {"domain": [0, 1], "nice": false, "zero": false}},
      "y": {"field": "y", "type": "quantitative", "scale": {"domain": [0, 15], "nice": false}},
      "color": {"datum": "DE (approx.)", "type": "nominal"}
     }}
   ]
  },
  {"data": {"name": "dash"}, "mark": {"type": "line", "opacity": 0},
   "encoding": {
    "x": {"field": "x", "type": "quantitative", "scale": {"domain": [0, 1], "nice": false, "zero": false}, "axis": {"orient": "top", "values": [0.2, 0.4, 0.6, 0.8], "labels": false, "title": null}},
    "y": {"field": "y", "type": "quantitative", "scale": {"domain": [0, 15], "nice": false}, "axis": {"orient": "right", "values": [5, 10], "labels": false, "title": null}}
   }},
  {
   "layer": [
    {"data": {"values": [{}]}, "mark": {"type": "rect", "fill": "white", "stroke": "#333333", "strokeWidth": 1},
     "encoding": {
      "x": {"datum": 0.2, "type": "quantitative", "scale": {"domain": [0.2, 0.24], "range": [54, 253], "nice": false, "zero": false}, "axis": {"orient": "bottom", "offset": -110, "values": [0.2, 0.21, 0.22, 0.23], "format": "~f", "title": null, "tickSize": -5, "labelPadding": 18, "labelFontSize": 20, "zindex": 1}},
      "x2": {"datum": 0.24},
      "y": {"datum": 1.3, "type": "quantitative", "scale": {"domain": [1.3, 1.7], "range": [294, 167], "nice": false, "zero": false}, "axis": {"orient": "left", "offset": -54, "values": [1.3, 1.4, 1.5, 1.6, 1.7], "format": ".1f", "title": null, "tickSize": -5, "labelPadding": 15, "labelFontSize": 20, "zindex": 1}},
      "y2": {"datum": 1.7}
     }},
    {"data": {"name": "dash"}, "transform": [{"filter": "datum.x >= 0.2 && datum.x <= 0.24"}],
     "mark": {"type": "line", "color": "#00ee00", "strokeWidth": 1.8, "strokeDash": [9, 6]},
     "encoding": {
      "x": {"field": "x", "type": "quantitative", "scale": {"domain": [0.2, 0.24], "range": [54, 253], "nice": false, "zero": false}},
      "y": {"field": "y", "type": "quantitative", "scale": {"domain": [1.3, 1.7], "range": [294, 167], "nice": false, "zero": false}}
     }},
    {"data": {"name": "gnB"}, "transform": [{"filter": "datum.x >= 0.2 && datum.x <= 0.24"}],
     "mark": {"type": "line", "color": "#00ee00", "strokeWidth": 2},
     "encoding": {
      "x": {"field": "x", "type": "quantitative", "scale": {"domain": [0.2, 0.24], "range": [54, 253], "nice": false, "zero": false}},
      "y": {"field": "y", "type": "quantitative", "scale": {"domain": [1.3, 1.7], "range": [294, 167], "nice": false, "zero": false}}
     }},
    {"data": {"name": "rdB"}, "transform": [{"filter": "datum.x >= 0.2 && datum.x <= 0.24"}],
     "mark": {"type": "line", "color": "#ff0000", "strokeWidth": 2},
     "encoding": {
      "x": {"field": "x", "type": "quantitative", "scale": {"domain": [0.2, 0.24], "range": [54, 253], "nice": false, "zero": false}},
      "y": {"field": "y", "type": "quantitative", "scale": {"domain": [1.3, 1.7], "range": [294, 167], "nice": false, "zero": false}}
     }},
    {"data": {"name": "bb"}, "transform": [{"filter": "datum.x >= 0.2 && datum.x <= 0.24 && datum.y >= 1.3 && datum.y <= 1.7"}],
     "mark": {"type": "point", "filled": true, "size": 28, "opacity": 1, "color": "#0000ff"},
     "encoding": {
      "x": {"field": "x", "type": "quantitative", "scale": {"domain": [0.2, 0.24], "range": [54, 253], "nice": false, "zero": false}},
      "y": {"field": "y", "type": "quantitative", "scale": {"domain": [1.3, 1.7], "range": [294, 167], "nice": false, "zero": false}}
     }}
   ]
  },
  {"data": {"values": [{}]}, "mark": {"type": "rect", "opacity": 0},
   "encoding": {
    "x": {"datum": 0.2, "type": "quantitative", "scale": {"domain": [0.2, 0.24], "range": [54, 253], "nice": false, "zero": false}, "axis": {"orient": "top", "offset": -167, "values": [0.21, 0.22, 0.23], "labels": false, "title": null, "tickSize": -5, "zindex": 1}},
    "x2": {"datum": 0.24},
    "y": {"datum": 1.3, "type": "quantitative", "scale": {"domain": [1.3, 1.7], "range": [294, 167], "nice": false, "zero": false}, "axis": {"orient": "right", "offset": -286, "values": [1.4, 1.5, 1.6], "labels": false, "title": null, "tickSize": -5, "zindex": 1}},
    "y2": {"datum": 1.7}
   }}
 ],
 "resolve": {"scale": {"x": "independent", "y": "independent"}}
}
],
"resolve": {"scale": {"color": "independent", "shape": "independent", "size": "independent"}, "legend": {"color": "independent", "shape": "independent", "size": "independent"}}
}
